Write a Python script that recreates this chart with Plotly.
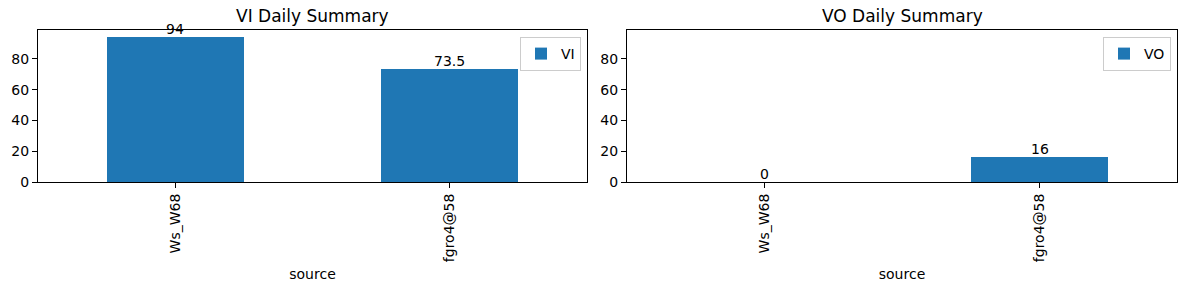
import plotly.graph_objects as go

sources = ["Ws_W68", "fgro4@58"]
vi_values = [94, 73.5]
vo_values = [0, 16]
titles = ["VI Daily Summary", "VO Daily Summary"]
series_names = ["VI", "VO"]

W, H = 1189, 290
BLUE = "#1f77b4"
FONT = "DejaVu Sans, Verdana, sans-serif"
FS = 14

fig = go.Figure()

ymax = max(vi_values + vo_values) * 1.05

axes_px = [(38, 587), (627, 1177)]
top_px, bot_px = 30, 182
ydom = [(H - bot_px) / H, (H - top_px) / H]

for i, (vals, name) in enumerate(zip([vi_values, vo_values], series_names)):
    xa = "x" if i == 0 else "x2"
    ya = "y" if i == 0 else "y2"
    fig.add_trace(go.Bar(
        x=list(range(len(sources))), y=vals, name=name,
        marker=dict(color=BLUE, line=dict(width=0)),
        width=0.5, xaxis=xa, yaxis=ya,
        legend="legend" if i == 0 else "legend2",
        showlegend=True,
    ))
    for j, v in enumerate(vals):
        fig.add_annotation(
            x=j, y=v, xref=xa, yref=ya, text=f"{v:g}", showarrow=False,
            yanchor="bottom", yshift=-2, font=dict(size=FS, color="black", family=FONT),
        )
    x0, x1 = axes_px[i]
    fig.add_annotation(
        x=(x0 + x1) / 2 / W, y=1 - 16 / H, xref="paper", yref="paper",
        text=titles[i], showarrow=False, xanchor="center", yanchor="middle",
        font=dict(size=17, color="black", family=FONT),
    )

axis_common = dict(
    showline=True, linecolor="black", linewidth=1, mirror=True,
    ticks="outside", ticklen=5, tickwidth=1, tickcolor="black",
    showgrid=False, zeroline=False, automargin=False,
    tickfont=dict(size=FS, color="black", family=FONT),
)

for i in range(2):
    x0, x1 = axes_px[i]
    xkey = "xaxis" if i == 0 else "xaxis2"
    ykey = "yaxis" if i == 0 else "yaxis2"
    fig.update_layout({
        xkey: dict(
            domain=[x0 / W, x1 / W], range=[-0.5, len(sources) - 0.5],
            tickmode="array", tickvals=list(range(len(sources))), ticktext=sources,
            tickangle=-90, anchor="y" if i == 0 else "y2",
            title=dict(text="source", font=dict(size=FS, color="black", family=FONT), standoff=8),
            **axis_common,
        ),
        ykey: dict(
            domain=ydom, range=[0, ymax], tickvals=[0, 20, 40, 60, 80],
            anchor="x" if i == 0 else "x2",
            **axis_common,
        ),
    })

legend_common = dict(
    bordercolor="#cccccc", borderwidth=1, bgcolor="rgba(255,255,255,0.8)",
    font=dict(size=FS, color="black", family=FONT),
    xanchor="right", yanchor="top", itemwidth=30,
)
fig.update_layout(
    legend=dict(x=(axes_px[0][1] - 6) / W, y=(H - 37) / H, **legend_common),
    legend2=dict(x=(axes_px[1][1] - 6) / W, y=(H - 37) / H, **legend_common),
)

fig.update_layout(
    width=W, height=H, margin=dict(l=0, r=0, t=0, b=0),
    paper_bgcolor="white", plot_bgcolor="white",
    font=dict(family=FONT, color="black"),
    bargap=0,
)

fig.write_html("out.html")
